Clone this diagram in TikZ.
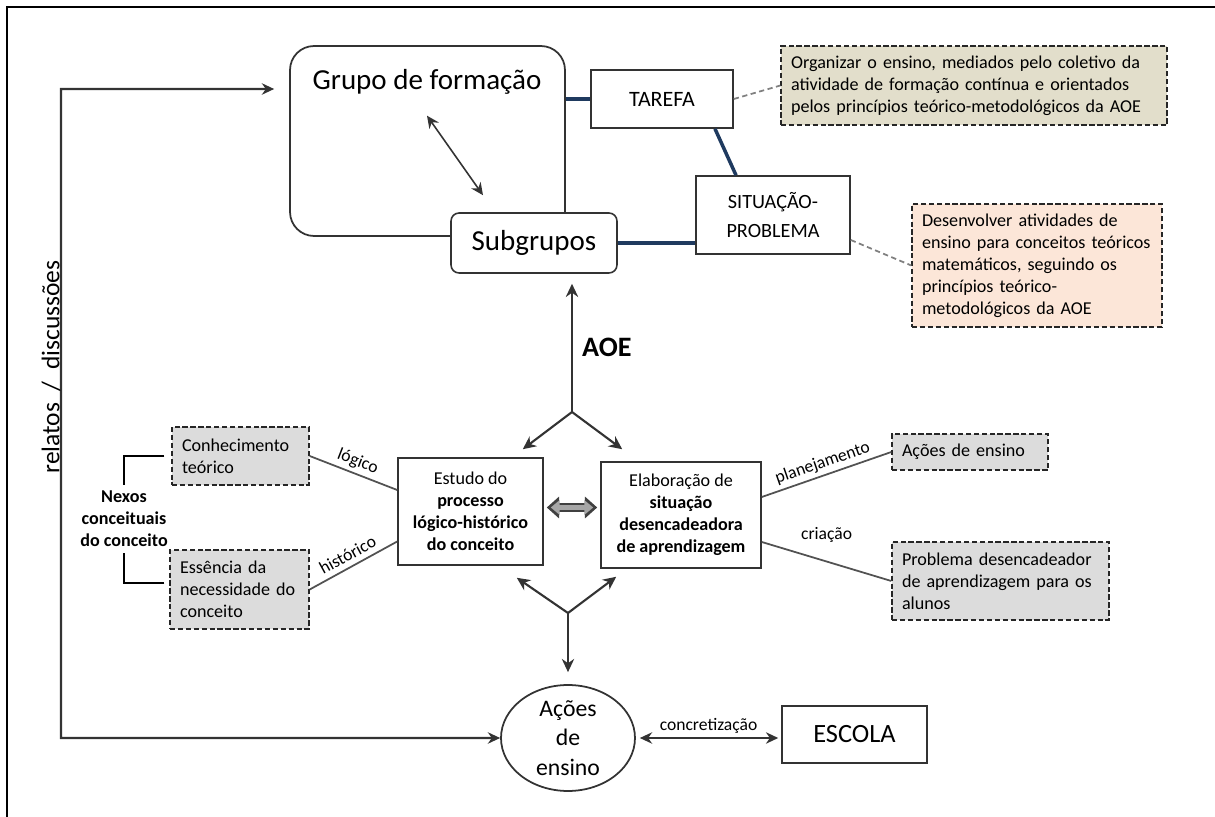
\documentclass[tikz,border=0pt]{standalone}
\usepackage{fontspec}
\setmainfont{Carlito}
\usepackage{tikz}
\usetikzlibrary{arrows.meta, positioning, calc, shapes.geometric}
\definecolor{NavyLine}{HTML}{1F3A5F}
\definecolor{SandNote}{HTML}{E2DECB}
\definecolor{PeachNote}{HTML}{FCE6D8}
\definecolor{GreyNote}{HTML}{DCDCDC}
\definecolor{InkGrey}{HTML}{333333}
\newcommand{\fsbig}{\fontsize{16.5}{20}\selectfont}
\newcommand{\fsmid}{\fontsize{12.5}{15}\selectfont}
\newcommand{\fssit}{\fontsize{11.5}{17}\selectfont}
\newcommand{\fsnote}{\fontsize{10.3}{12.5}\selectfont}
\newcommand{\fslabel}{\fontsize{10}{12}\selectfont}
\newcommand{\fsacoes}{\fontsize{13.5}{16.8}\selectfont}
\newcommand{\fsescola}{\fontsize{15}{18}\selectfont}
\newcommand{\fsaoe}{\fontsize{16}{19}\selectfont}
\newcommand{\fsside}{\fontsize{14.5}{17}\selectfont}

\begin{document}
\begin{tikzpicture}[x=0.02cm, y=-0.02cm,
    box/.style={draw=InkGrey, line width=0.9pt, fill=white, align=center, inner sep=2pt},
    note/.style={draw=black!85, dash pattern=on 3pt off 1.5pt, line width=0.8pt,
                 align=left, inner xsep=0.2cm, inner ysep=3pt, font=\fsnote},
    greybox/.style={note, fill=GreyNote},
    navy/.style={draw=NavyLine, line width=2pt},
    arr/.style={draw=InkGrey, line width=1.2pt, -{Stealth[length=7.5pt,width=7pt]}},
    both/.style={draw=InkGrey, line width=1.1pt,
                 {Stealth[length=7pt,width=6.5pt]}-{Stealth[length=7pt,width=6.5pt]}},
    fatout/.style={draw=black!75, line width=5pt,
                   {Triangle[length=7pt,width=12pt]}-{Triangle[length=7pt,width=12pt]}},
    fatin/.style={draw=gray!70, line width=2.6pt,
                  {Triangle[length=5pt,width=8pt]}-{Triangle[length=5pt,width=8pt]}},
    link/.style={draw=InkGrey!85, line width=1pt},
    tie/.style={draw=gray, dash pattern=on 3pt off 2pt, line width=1pt},
    lbl/.style={font=\fslabel, inner sep=2pt}
]
    \useasboundingbox (0,0) rectangle (1215,817);
    % outer frame
    \draw[line width=1.3pt] (7,817) -- (7,7) -- (1215,7);

    % Formation group and subgroups
    \node[draw=InkGrey, line width=1pt, rounded corners=0.48cm,
          minimum width=5.5cm, minimum height=3.8cm] (grupo) at (427.5,141) {};
    \node[font=\fsbig] (grupotxt) at (427,82) {Grupo de formação};
    \node[box, rounded corners=0.16cm, minimum width=3.32cm, minimum height=1.2cm,
          font=\fsbig] (sub) at (534,243) {Subgrupos};
    \draw[both, line width=0.9pt] ([yshift=-0.3cm]grupotxt.south)
        -- ([xshift=-1.02cm,yshift=0.34cm]sub.north);

    % Task and problem situation
    \node[box, minimum width=2.84cm, minimum height=1.16cm, font=\fsmid] (tarefa) at (662,99) {TAREFA};
    \node[box, minimum width=3.08cm, minimum height=1.56cm, font=\fssit] (sit) at (773,215)
        {SITUAÇÃO-\\PROBLEMA};
    \draw[navy] (tarefa.west -| grupo.east) -- (tarefa.west);
    \draw[navy] ([xshift=1.06cm]tarefa.south) -- ([xshift=-0.74cm]sit.north);
    \draw[navy] (sub.east) -- (sub.east -| sit.west);

    % Notes
    \node[note, fill=SandNote, text width=7.32cm, minimum height=1.58cm] (tarefanote) at (974,85.5)
        {Organizar o ensino, mediados pelo coletivo da\\
         atividade de formação contínua e orientados\\
         pelos princípios teórico-metodológicos da AOE};
    \node[note, fill=PeachNote, text width=4.6cm, minimum height=2.46cm] (sitnote) at (1037,265.5)
        {Desenvolver atividades de\\ ensino para conceitos teóricos\\ matemáticos, seguindo os\\
         princípios teórico-\\ metodológicos da AOE};
    \draw[tie] (tarefa.east) -- (tarefanote.west);
    \draw[tie] ([yshift=-0.5cm]sit.east) -- (sitnote.west);

    % Central study boxes
    \node[box, minimum width=2.9cm, minimum height=2.14cm, font=\fsnote] (estudo) at (470.5,511.5)
        {Estudo do\\ \textbf{processo}\\ \textbf{lógico-histórico}\\ \textbf{do conceito}};
    \node[box, minimum width=3.2cm, minimum height=2.12cm, font=\fsnote] (elab) at (681,515)
        {Elaboração de\\ \textbf{situação}\\ \textbf{desencadeadora}\\ \textbf{de aprendizagem}};
    \draw[fatout, shorten <=0.06cm, shorten >=0.06cm] ([yshift=0.08cm]estudo.east)
        -- ([yshift=0.08cm]estudo.east -| elab.west);
    \draw[fatin, shorten <=0.14cm, shorten >=0.14cm] ([yshift=0.08cm]estudo.east)
        -- ([yshift=0.08cm]estudo.east -| elab.west);

    % AOE fork
    \coordinate (upfork) at (572,412);
    \draw[arr, shorten >=0.2cm] (upfork) -- (upfork |- sub.south);
    \node[font=\fsaoe, anchor=west] (aoe) at (576,347) {\textbf{AOE}};
    \draw[arr] (upfork) -- ([xshift=-0.42cm,yshift=0.16cm]estudo.north east);
    \draw[arr] (upfork) -- ([xshift=0.44cm,yshift=0.24cm]elab.north west);

    % Teaching actions
    \node[draw=InkGrey, line width=1pt, ellipse, minimum width=2.68cm, minimum height=2.12cm,
          inner sep=-5pt, align=center, font=\fsacoes] (acoes) at (568,738) {Ações\\ de\\ ensino};
    \coordinate (lowfork) at (568,613);
    \draw[arr] (lowfork) -- ([xshift=-0.54cm,yshift=-0.24cm]estudo.south east);
    \draw[arr] (lowfork) -- ([xshift=0.32cm,yshift=-0.16cm]elab.south west);
    \draw[arr, shorten >=0.24cm] (lowfork) -- (lowfork |- acoes.north);

    \node[box, minimum width=2.9cm, minimum height=1.14cm, font=\fsescola] (escola) at (854.5,734.5) {ESCOLA};
    \draw[both, shorten <=0.08cm, shorten >=0.06cm] (acoes.east) -- (acoes.east -| escola.west)
        node[lbl, midway, above] {concretização};

    % Conceptual links
    \node[greybox, text width=2.34cm, minimum height=1.16cm] (conh) at (240.5,456) {Conhecimento\\ teórico};
    \node[greybox, text width=2.38cm, minimum height=1.58cm] (essen) at (239.5,589.5)
        {Essência da\\ necessidade do\\ conceito};
    \node[font=\fsnote\bfseries, align=center] (nexos) at (124,519) {Nexos\\ conceituais\\ do conceito};
    \draw[line width=1.3pt] ([xshift=-0.14cm]conh.west) -| (nexos.north);
    \draw[line width=1.3pt] ([xshift=-0.1cm,yshift=0.13cm]essen.west) -| (nexos.south);
    \draw[link] (conh.east) -- ([yshift=0.43cm]estudo.west)
        node[lbl, midway, above, sloped] {lógico};
    \draw[link] (essen.east) -- ([yshift=-0.6cm]estudo.west)
        node[lbl, pos=0.5, above=1pt, sloped] {histórico};

    % Planning and creation
    \node[greybox, text width=2.72cm, minimum height=0.72cm] (acbox) at (970,452) {Ações de ensino};
    \node[greybox, text width=3.94cm, minimum height=1.56cm] (prob) at (1000.5,581)
        {Problema desencadeador\\ de aprendizagem para os\\ alunos};
    \draw[link] ([yshift=0.36cm]elab.east) -- (acbox.west)
        node[lbl, midway, above, sloped] {planejamento};
    \draw[link] ([yshift=-0.54cm]elab.east) -- (prob.west)
        node[lbl, midway, above=0.3cm] {criação};

    % Feedback loop
    \coordinate (loopcorner) at (61,89);
    \draw[both, line width=1.2pt, shorten >=0.3cm] (acoes.west) -| (loopcorner)
        -- ([yshift=1.04cm]grupo.west);
    \node[font=\fsside, rotate=90] (relatos) at (51,367) {relatos \ / \ discussões};
\end{tikzpicture}
\end{document}
